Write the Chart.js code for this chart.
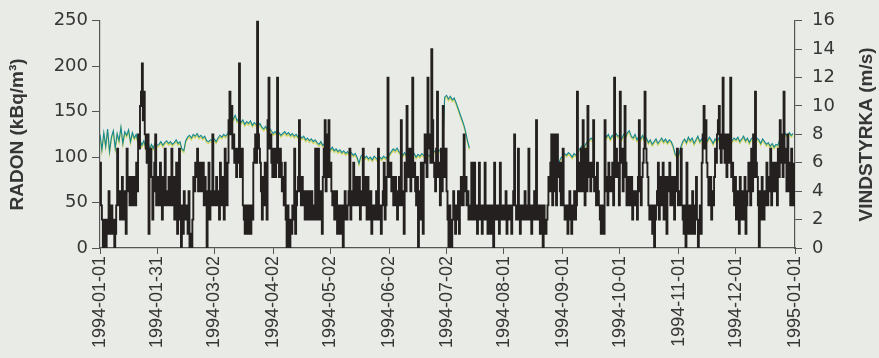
<!DOCTYPE html>
<html>
<head>
<meta charset="utf-8">
<script src="https://cdn.jsdelivr.net/npm/chart.js@4.4.0/dist/chart.umd.min.js"></script>
<style>
  html, body { margin: 0; padding: 0; background: #e9ebe6; }
  #wrap { width: 879px; height: 358px; position: relative; }
</style>
</head>
<body>
<div id="wrap"><canvas id="radonChart"></canvas></div>
<script>
// x axis: day number counted from 1994-01-01, one tick per twelfth of the year
const TICK_DAYS = [0, 30, 60, 91, 121, 152, 182, 212, 243, 273, 304, 334, 365];
const TICK_LABELS = [
  "1994-01-01", "1994-01-31", "1994-03-02", "1994-04-02", "1994-05-02", "1994-06-02",
  "1994-07-02", "1994-08-01", "1994-09-01", "1994-10-01", "1994-11-01", "1994-12-01", "1995-01-01"
];

// wind speed (m/s), two readings per day
const WIND_JAN = [6,3, 2,0, 1,2, 0,2, 1,4, 2,1, 3,1, 2,0, 1,3, 7,3, 4,2, 3,5, 2,4, 3,1, 7,4, 5,3, 4,5, 3,4, 5,3, 6,4, 8,7, 10,11, 13,9, 11,8, 7,6, 8,1, 6,7, 5,2, 4,6, 8,3, 5,4];
const WIND_FEB = [3,6, 4,2, 5,3, 7,4, 3,4, 5,3, 4,7, 3,5, 2,4, 6,1, 3,7, 2,0, 3,1, 4,2, 2,3, 1,4, 0,1, 0,2, 5,4, 6,5, 7,4, 5,6, 4,5, 6,3, 5,4, 0,3, 6,2, 4,3];
const WIND_MAR = [8,4, 3,4, 5,3, 4,2, 6,3, 4,5, 2,7, 5,3, 6,9, 11,8, 10,7, 8,6, 7,5, 6,7, 13,5, 6,7, 3,2, 1,3, 2,1, 3,2, 1,3, 2,6, 7,8, 6,16, 8,7, 6,4, 2,5, 3,6, 4,2, 9,12, 7,8];
const WIND_APR = [6,5, 7,6, 5,7, 12,6, 5,7, 6,4, 5,3, 6,2, 0,3, 1,0, 2,1, 3,2, 7,1, 3,4, 5,9, 4,3, 5,4, 3,2, 4,3, 2,4, 3,2, 4,3, 2,3, 7,2, 3,7, 2,4, 3,1, 5,7, 9,4, 8,5];
const WIND_MAY = [9,5, 6,4, 3,4, 2,3, 4,1, 2,3, 1,2, 3,0, 2,4, 3,2, 3,4, 7,2, 3,4, 6,3, 4,5, 3,4, 5,2, 4,3, 7,3, 5,4, 2,5, 3,2, 4,1, 2,3, 3,2, 4,2, 7,3, 2,1, 3,4, 6,2, 3,5];
const WIND_JUN = [12,6, 5,6, 4,5, 3,4, 5,3, 2,4, 5,3, 9,4, 3,1, 6,4, 10,5, 6,7, 4,6, 12,5, 6,4, 3,5, 0,4, 2,6, 3,1, 6,8, 7,5, 12,8, 7,6, 14,9, 6,5, 4,7, 11,5, 6,3, 7,4, 10,6];
const WIND_JUL = [5,7, 4,2, 0,3, 1,0, 2,4, 3,1, 2,3, 4,1, 3,5, 4,3, 8,4, 5,3, 4,2, 3,2, 6,2, 3,6, 2,3, 1,2, 6,3, 2,1, 3,2, 6,2, 3,1, 2,3, 1,2, 3,0, 6,2, 2,3, 3,1, 6,2, 3,2];
const WIND_AUG = [3,2, 4,1, 2,3, 3,2, 1,3, 4,8, 3,2, 2,7, 3,1, 2,3, 3,2, 4,2, 2,3, 7,2, 3,1, 2,3, 4,2, 9,3, 2,3, 1,3, 2,0, 3,2, 1,2, 3,5, 4,6, 8,3, 5,8, 4,3, 8,5, 6,4, 3,6];
const WIND_SEP = [7,3, 2,3, 3,1, 2,4, 3,1, 2,3, 4,2, 3,11, 5,4, 6,7, 4,9, 5,3, 7,4, 10,5, 6,4, 5,6, 9,4, 5,3, 6,4, 3,2, 1,3, 2,1, 9,4, 5,3, 6,4, 4,5, 6,3, 12,5, 7,6, 5,3];
const WIND_OCT = [11,6, 7,4, 5,10, 6,3, 4,5, 3,4, 5,2, 3,4, 4,3, 2,5, 9,4, 3,5, 6,7, 11,7, 6,5, 3,2, 2,3, 1,3, 0,2, 3,4, 6,2, 5,3, 4,6, 2,5, 3,1, 5,4, 6,3, 4,5, 3,2, 5,4, 7,3];
const WIND_NOV = [4,3, 7,3, 2,1, 3,0, 6,2, 1,3, 2,1, 4,2, 1,3, 5,2, 0,2, 3,1, 6,8, 10,7, 9,6, 5,3, 4,5, 2,4, 3,5, 7,6, 8,9, 10,7, 6,8, 12,7, 6,8, 5,7, 8,6, 12,5, 6,4, 3,5];
const WIND_DEC = [2,4, 3,1, 5,2, 4,3, 2,5, 1,3, 4,6, 5,3, 7,4, 8,5, 11,6, 5,3, 0,4, 2,5, 3,2, 4,3, 6,3, 5,4, 7,3, 6,5, 4,6, 5,3, 7,5, 9,6, 8,5, 11,6, 7,4, 8,6, 4,3, 7,5, 3,6];

// radon (kBq/m3), one value per day, null where the meter was off
const RADON_JAN = [125,108,127,112,131,106,122,129,110,126,118,133,115,128,124,130,117,127,121,125,116,119,113,118,111,121,108,114,110,116,113];
const RADON_FEB = [114,117,113,116,118,115,117,114,116,119,115,117,109,107,118,122,124,121,125,123,126,122,124,121,123,118,117,119];
const RADON_MAR = [118,120,117,121,124,122,125,123,126,131,138,142,146,140,143,138,141,136,139,137,140,135,138,136,134,137,133,131,134,130,132];
const RADON_APR = [129,126,128,125,127,124,126,128,125,127,124,126,123,125,122,124,121,123,119,121,118,120,117,119,116,114,117,113,115,111];
const RADON_MAY = [110,108,111,107,109,106,108,105,107,104,106,103,105,102,104,100,93,101,103,99,101,98,100,97,101,99,96,100,98,101,99];
const RADON_JUN = [100,103,106,109,107,110,106,104,102,105,101,103,99,102,104,100,103,101,104,102,100,103,101,104,105,107,104,108,106,105];
const RADON_JUL = [166,168,164,167,163,165,160,154,148,142,136,128,118,110,
  null,null,null,null,null,null,null,null,null,null,null,null,null,null,null,null,null];
const RADON_AUG = [null,null,null,null,null,null,null,null,null,null,null,null,null,null,null,
  null,null,null,null,null,null,null,null,null,null,null,null,null,null,94,99];
const RADON_SEP = [101,104,102,105,103,100,104,102,106,109,112,110,114,117,119,121,118,
  null,null,null,null,null,127,122,125,120,124,121,126,123];
const RADON_OCT = [124,120,125,122,127,129,123,121,125,119,123,120,124,118,121,116,119,114,117,120,115,118,121,117,120,116,119,117,112,104,100];
const RADON_NOV = [103,111,117,120,116,122,118,121,115,119,123,117,120,116,121,118,122,119,115,120,117,121,118,123,119,116,120,122,118,121];
const RADON_DEC = [119,122,117,120,123,118,121,116,120,122,117,121,119,115,120,117,114,116,112,115,111,114,113,120,124,122,126,123,127,124,126];

const WIND = [].concat(WIND_JAN, WIND_FEB, WIND_MAR, WIND_APR, WIND_MAY, WIND_JUN,
  WIND_JUL, WIND_AUG, WIND_SEP, WIND_OCT, WIND_NOV, WIND_DEC);
const RADON = [].concat(RADON_JAN, RADON_FEB, RADON_MAR, RADON_APR, RADON_MAY, RADON_JUN,
  RADON_JUL, RADON_AUG, RADON_SEP, RADON_OCT, RADON_NOV, RADON_DEC);

const windPoints = WIND.map((v, i) => ({ x: i / 2, y: v }));
const radonPoints = RADON.map((v, i) => ({ x: i, y: v }));

const INK = "#363636";
const AXIS = "#555555";

/* ── right-hand axis title, reading bottom to top ─────────*/
const rightTitle = {
  id: "rightTitle",
  afterDraw(chart) {
    const { ctx, chartArea } = chart;
    const s = chart.scales.yWind;
    ctx.save();
    ctx.translate(s.right - 12, (chartArea.top + chartArea.bottom) / 2);
    ctx.rotate(-Math.PI / 2);
    ctx.font = "bold 19px 'Liberation Sans', Arial, sans-serif";
    ctx.fillStyle = INK;
    ctx.textAlign = "center";
    ctx.textBaseline = "middle";
    ctx.fillText("VINDSTYRKA (m/s)", 0, 0);
    ctx.restore();
  }
};

new Chart(document.getElementById("radonChart"), {
  type: "line",
  data: {
    datasets: [
      { label: "Vindstyrka", data: windPoints, yAxisID: "yWind", stepped: true,
        borderColor: "#242020", borderWidth: 1.9, pointRadius: 0, order: 0 },
      { label: "Radon", data: radonPoints, yAxisID: "y", spanGaps: false,
        borderColor: "#14878c", borderWidth: 1.1, pointRadius: 0, order: 1 },
      { label: "Radon (underlag)", data: radonPoints, yAxisID: "yShade", spanGaps: false,
        borderColor: "#d2d35a", borderWidth: 1.2, pointRadius: 0, order: 2 }
    ]
  },
  options: {
    responsive: true, maintainAspectRatio: false, animation: false,
    layout: { padding: { top: 20, left: 0, right: 0, bottom: 0 } },
    plugins: { legend: { display: false }, tooltip: { enabled: false } },
    scales: {
      x: {
        type: "linear", min: 0, max: 365,
        afterBuildTicks: s => { s.ticks = TICK_DAYS.map(v => ({ value: v })); },
        afterFit: s => { s.height = 110; },
        ticks: {
          autoSkip: false, minRotation: 90, maxRotation: 90, padding: 2, color: INK,
          font: { family: "'Liberation Sans', Arial, sans-serif", size: 18 },
          callback: (v, i) => TICK_LABELS[i]
        },
        grid: { drawOnChartArea: false, tickLength: 6, color: AXIS },
        border: { color: AXIS, width: 1.2 }
      },
      y: {
        position: "left", min: 0, max: 250,
        afterFit: s => { s.width = 100; },
        ticks: { stepSize: 25, padding: 4, color: INK,
          font: { family: "'DejaVu Sans', sans-serif", size: 18 } },
        grid: { drawOnChartArea: false, tickLength: 8, color: AXIS },
        border: { color: AXIS, width: 1.2 },
        title: { display: true, text: "RADON (kBq/m³)", color: INK, padding: { top: 6, bottom: 0 },
          font: { family: "'Liberation Sans', Arial, sans-serif", size: 19, weight: "bold" } }
      },
      yShade: { display: false, min: 2, max: 252 },
      yWind: {
        position: "right", min: 0, max: 16,
        afterFit: s => { s.width = 84; },
        ticks: { stepSize: 2, padding: 10, color: INK,
          font: { family: "'DejaVu Sans', sans-serif", size: 18 } },
        grid: { drawOnChartArea: false, tickLength: 7, color: AXIS },
        border: { color: AXIS, width: 1.2 }
      }
    }
  },
  plugins: [rightTitle]
});
</script>
</body>
</html>
